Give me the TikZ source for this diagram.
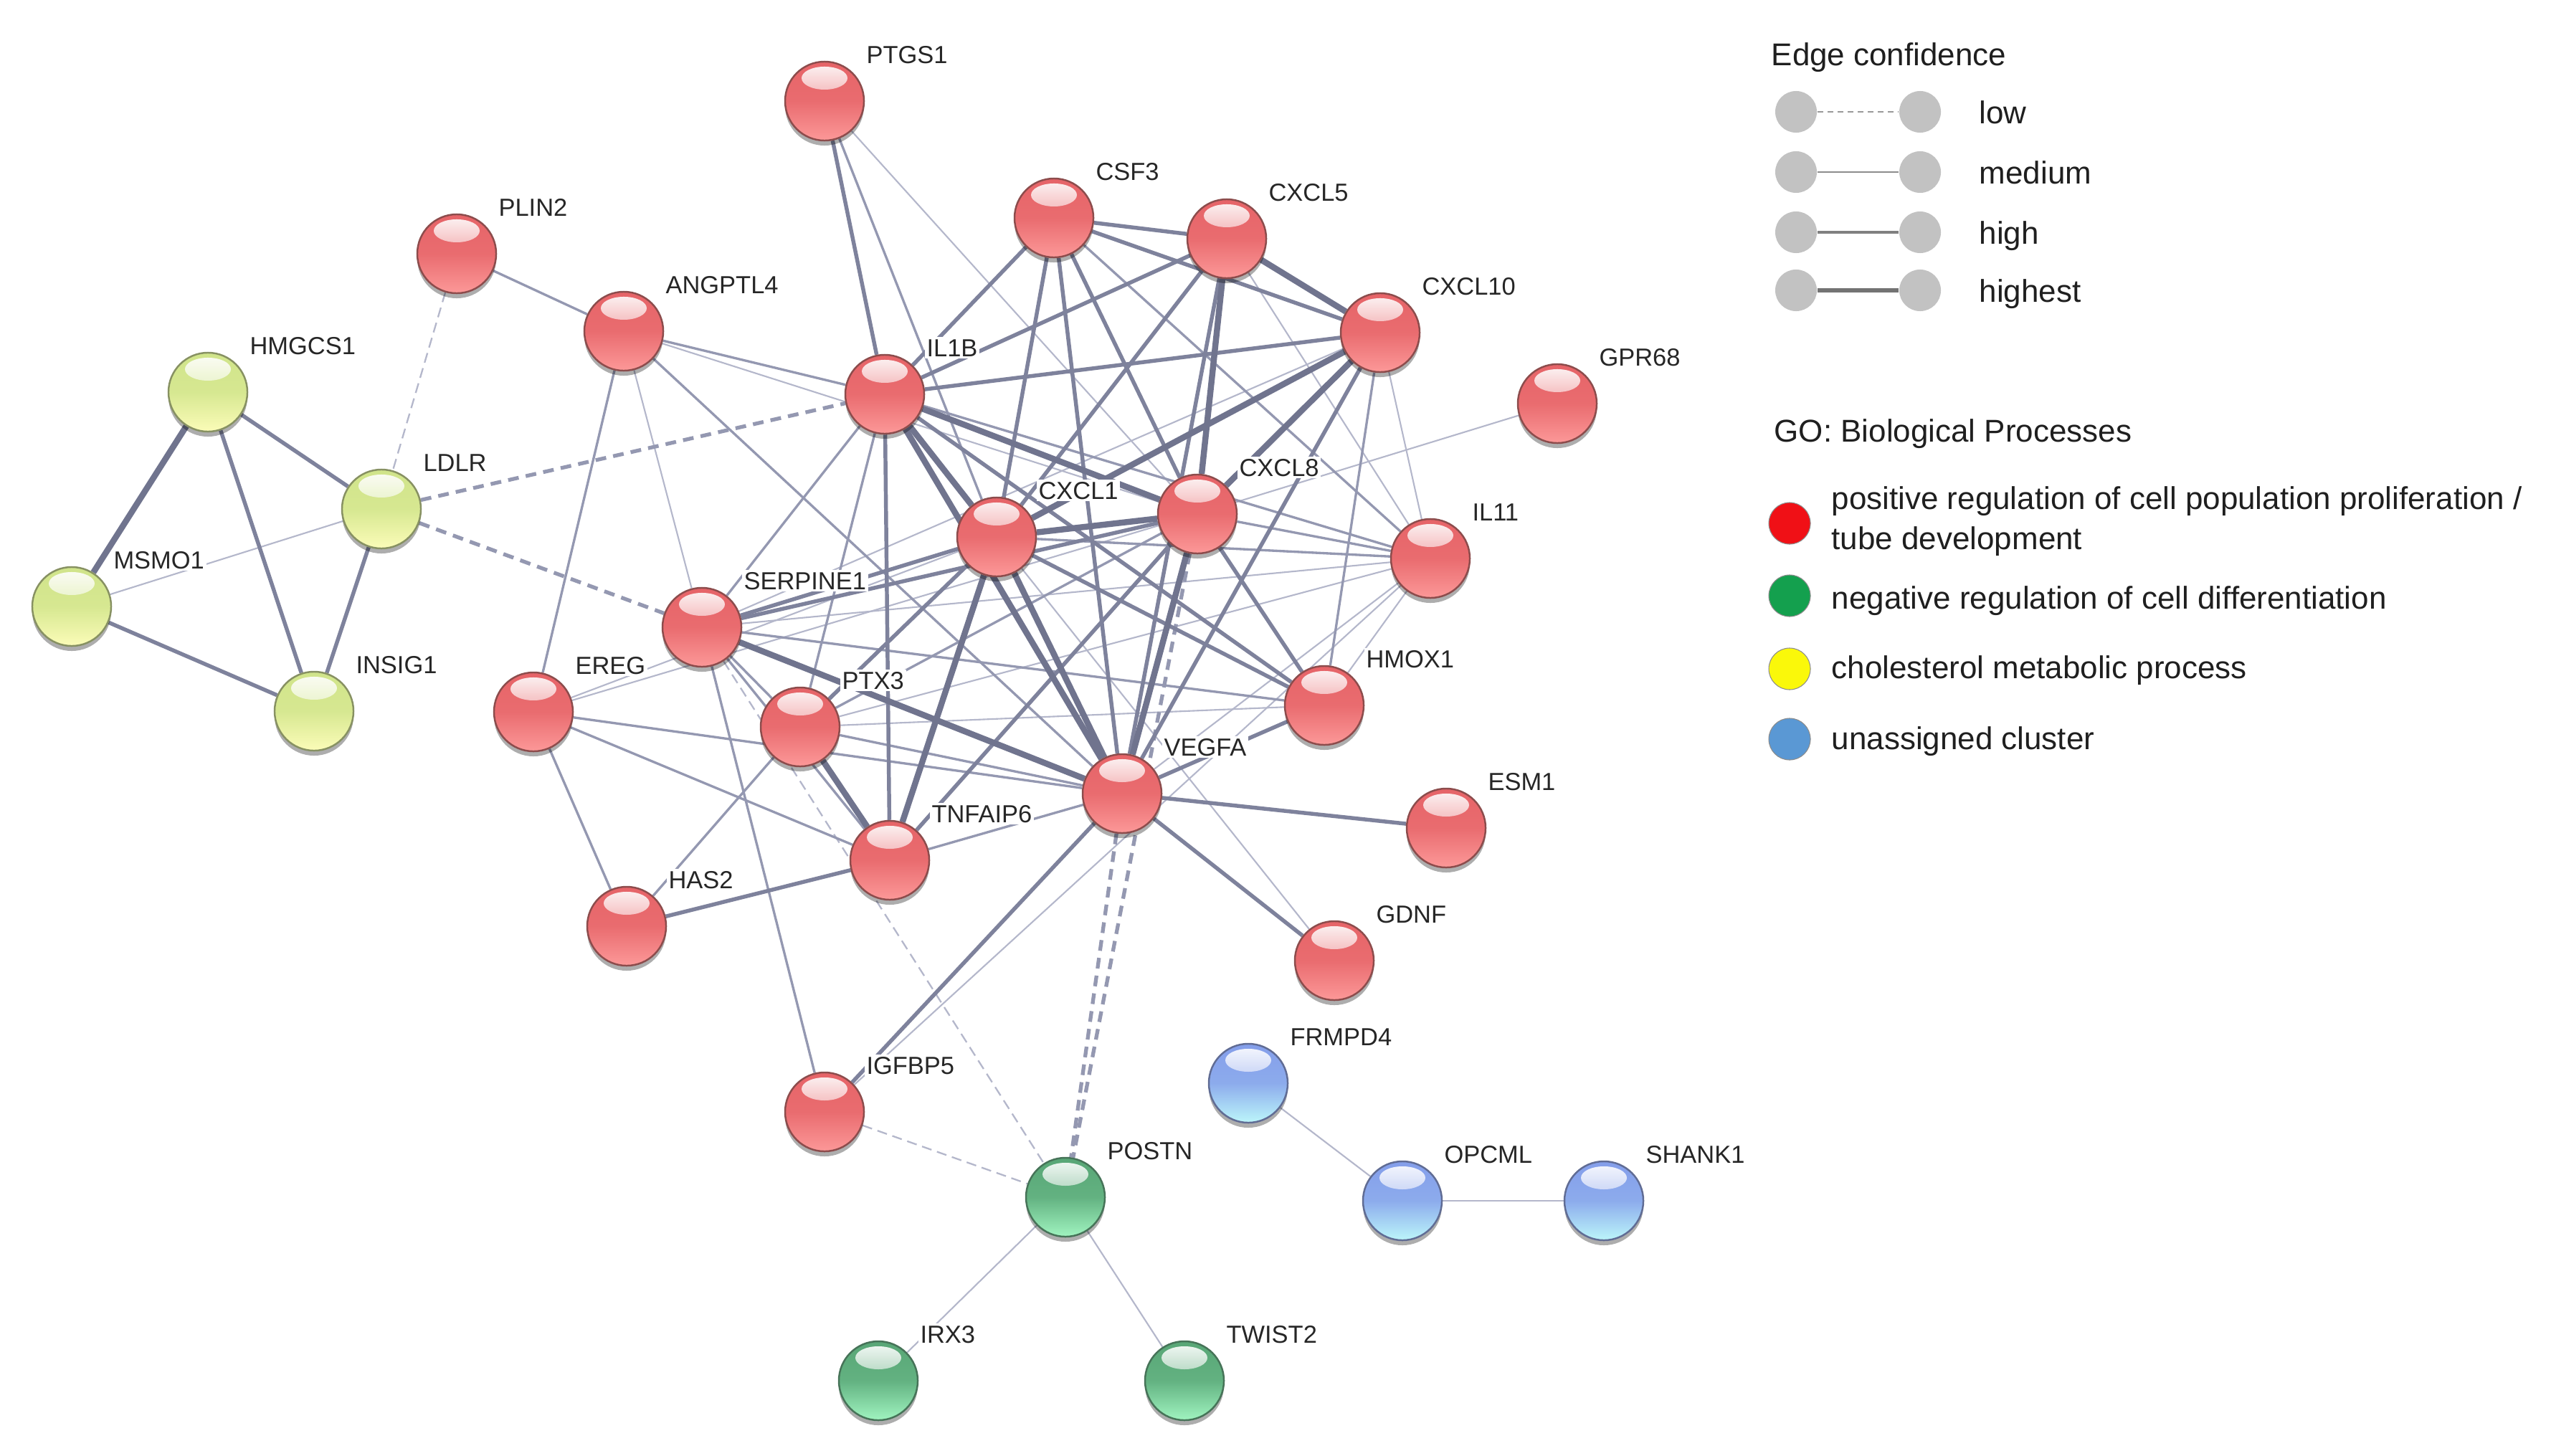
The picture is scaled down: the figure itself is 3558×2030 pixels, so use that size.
\documentclass[tikz,border=0pt]{standalone}
\usepackage{fontspec}
\setmainfont{Liberation Sans}
\pgfdeclarelayer{bg}
\pgfdeclarelayer{edges}
\pgfsetlayers{bg,edges,main}
\definecolor{rTop}{RGB}{230,100,104}
\definecolor{rBot}{RGB}{252,152,152}
\definecolor{rRim}{RGB}{140,76,76}
\definecolor{gTop}{RGB}{88,166,118}
\definecolor{gBot}{RGB}{160,244,192}
\definecolor{gRim}{RGB}{70,115,88}
\definecolor{yTop}{RGB}{208,228,138}
\definecolor{yBot}{RGB}{251,252,184}
\definecolor{yRim}{RGB}{135,145,98}
\definecolor{bTop}{RGB}{132,158,234}
\definecolor{bBot}{RGB}{188,246,250}
\definecolor{bRim}{RGB}{96,108,148}
\definecolor{eA}{RGB}{180,183,203}
\definecolor{eB}{RGB}{148,152,177}
\definecolor{eC}{RGB}{126,130,156}
\definecolor{eD}{RGB}{112,116,142}
\definecolor{goRed}{RGB}{240,16,22}
\definecolor{goGreen}{RGB}{20,160,78}
\definecolor{goYellow}{RGB}{250,248,10}
\definecolor{goBlue}{RGB}{90,152,212}
\begin{document}
\begin{tikzpicture}[x=0.01cm,y=-0.01cm,
  ball/.style={circle, inner sep=0pt, minimum size=1.1cm, draw=#1Rim, line width=0.7pt,
    top color=#1Top, bottom color=#1Bot, middle color=#1Top!85!#1Bot,
    preaction={fill=black, opacity=0.32, transform canvas={yshift=-0.7mm}},
    path picture={\shade[top color=white, bottom color=#1Top, opacity=0.95]
      ([yshift=0.32cm]path picture bounding box.center) ellipse [x radius=0.32cm, y radius=0.16cm];}},
  lab/.style={font=\fontsize{9.8}{11}\selectfont, text=black!85, inner sep=0.8pt, fill=white, anchor=base west},
  lab2/.style={font=\fontsize{12.5}{14}\selectfont, text=black!88, inner sep=0pt, anchor=base west},
  conf1/.style={draw=eA, line width=0.6pt},
  conf2/.style={draw=eB, line width=0.95pt},
  conf3/.style={draw=eC, line width=1.55pt},
  conf4/.style={draw=eD, line width=2.4pt},
  dashlight/.style={draw=eA, line width=0.65pt, dash pattern=on 1.4mm off 0.8mm},
  dashdark/.style={draw=eB, line width=1.5pt, dash pattern=on 1.5mm off 1mm},
  legdot/.style={circle, inner sep=0pt, minimum size=0.58cm, fill=black!24},
  godot/.style={circle, inner sep=0pt, minimum size=0.58cm, draw=black!45, line width=0.3pt}
]
\useasboundingbox (0,0) rectangle (3558,2030);
\begin{pgfonlayer}{bg}
\fill[white] (0,0) rectangle (3558,2030);
\end{pgfonlayer}
\newcommand\mkgene[3]{%
  \node[ball=#1] (#2) at (#3) {};
  \node[lab] (#2-t) at ([shift={(55,-53)}]#2.center) {#2};}
% red cluster
\mkgene{r}{PTGS1}{1150,141}
\mkgene{r}{CSF3}{1470,304}
\mkgene{r}{CXCL5}{1711,333}
\mkgene{r}{CXCL10}{1925,464}
\mkgene{r}{GPR68}{2172,563}
\mkgene{r}{PLIN2}{637,354}
\mkgene{r}{ANGPTL4}{870,462}
\mkgene{r}{IL1B}{1234,550}
\mkgene{r}{CXCL1}{1390,749}
\mkgene{r}{CXCL8}{1670,717}
\mkgene{r}{IL11}{1995,779}
\mkgene{r}{SERPINE1}{979,875}
\mkgene{r}{EREG}{744,993}
\mkgene{r}{PTX3}{1116,1014}
\mkgene{r}{HMOX1}{1847,984}
\mkgene{r}{VEGFA}{1565,1107}
\mkgene{r}{ESM1}{2017,1155}
\mkgene{r}{TNFAIP6}{1241,1200}
\mkgene{r}{HAS2}{874,1292}
\mkgene{r}{GDNF}{1861,1340}
\mkgene{r}{IGFBP5}{1150,1551}
% yellow cluster
\mkgene{y}{HMGCS1}{290,547}
\mkgene{y}{LDLR}{532,710}
\mkgene{y}{MSMO1}{100,846}
\mkgene{y}{INSIG1}{438,992}
% green cluster
\mkgene{g}{POSTN}{1486,1670}
\mkgene{g}{IRX3}{1225,1926}
\mkgene{g}{TWIST2}{1652,1926}
% blue cluster
\mkgene{b}{FRMPD4}{1741,1511}
\mkgene{b}{OPCML}{1956,1675}
\mkgene{b}{SHANK1}{2237,1675}
\begin{pgfonlayer}{edges}
\foreach \a/\b in {PLIN2/LDLR, SERPINE1/POSTN, IGFBP5/POSTN}
  \draw[dashlight] (\a) -- (\b);
\foreach \a/\b in {MSMO1/LDLR, ANGPTL4/SERPINE1, ANGPTL4/CXCL8, PTGS1/CXCL8,
  CXCL5/IL11, CXCL10/IL11, CXCL10/SERPINE1, CXCL8/GPR68, CXCL8/EREG, CXCL1/EREG,
  CXCL1/GDNF, SERPINE1/IL11, PTX3/HMOX1, PTX3/IL11, VEGFA/IL11, IGFBP5/IL11,
  HMOX1/IL11, POSTN/IRX3, POSTN/TWIST2, FRMPD4/OPCML, OPCML/SHANK1}
  \draw[conf1] (\a) -- (\b);
\foreach \a/\b in {PLIN2/ANGPTL4, ANGPTL4/EREG, ANGPTL4/VEGFA, ANGPTL4/IL1B,
  PTGS1/CXCL1, IL1B/PTX3, IL1B/SERPINE1, IL1B/IL11, CSF3/IL11, CXCL10/HMOX1,
  CXCL8/IL11, CXCL8/PTX3, CXCL1/IL11, SERPINE1/TNFAIP6, SERPINE1/PTX3,
  SERPINE1/HMOX1, SERPINE1/IGFBP5, PTX3/HAS2, PTX3/VEGFA, EREG/VEGFA,
  EREG/TNFAIP6, EREG/HAS2, TNFAIP6/VEGFA}
  \draw[conf2] (\a) -- (\b);
\foreach \a/\b in {LDLR/IL1B, LDLR/SERPINE1, VEGFA/POSTN, CXCL8/POSTN}
  \draw[dashdark] (\a) -- (\b);
\foreach \a/\b in {HMGCS1/INSIG1, HMGCS1/LDLR, MSMO1/INSIG1, LDLR/INSIG1,
  PTGS1/IL1B, IL1B/CSF3, IL1B/CXCL5, IL1B/CXCL10, IL1B/HMOX1, IL1B/TNFAIP6,
  CSF3/CXCL5, CSF3/CXCL10, CSF3/CXCL1, CSF3/VEGFA, CSF3/CXCL8, CXCL5/CXCL1,
  CXCL5/VEGFA, CXCL10/VEGFA, CXCL8/HMOX1, CXCL8/TNFAIP6, CXCL8/SERPINE1,
  CXCL1/SERPINE1, CXCL1/PTX3, CXCL1/HMOX1, HAS2/TNFAIP6, VEGFA/HMOX1,
  VEGFA/ESM1, VEGFA/GDNF, VEGFA/IGFBP5}
  \draw[conf3] (\a) -- (\b);
\foreach \a/\b in {HMGCS1/MSMO1, IL1B/CXCL8, IL1B/CXCL1, IL1B/VEGFA,
  CXCL5/CXCL10, CXCL5/CXCL8, CXCL10/CXCL1, CXCL10/CXCL8, CXCL8/CXCL1,
  CXCL8/VEGFA, CXCL1/TNFAIP6, CXCL1/VEGFA, SERPINE1/VEGFA, PTX3/TNFAIP6}
  \draw[conf4] (\a) -- (\b);
\end{pgfonlayer}
% legend: edge confidence
\node[lab2] (ectitle) at (2470,91) {Edge confidence};
\node[legdot] (l1a) at (2505,156) {}; \node[legdot] (l1b) at (2678,156) {};
\node[legdot] (l2a) at (2505,240) {}; \node[legdot] (l2b) at (2678,240) {};
\node[legdot] (l3a) at (2505,324) {}; \node[legdot] (l3b) at (2678,324) {};
\node[legdot] (l4a) at (2505,405) {}; \node[legdot] (l4b) at (2678,405) {};
\draw[black!40, line width=0.5pt, dash pattern=on 0.8mm off 0.6mm] (l1a) -- (l1b);
\draw[black!45, line width=0.85pt] (l2a) -- (l2b);
\draw[black!50, line width=1.25pt] (l3a) -- (l3b);
\draw[black!55, line width=1.9pt] (l4a) -- (l4b);
\node[lab2] (low) at (2760,172) {low};
\node[lab2] (medium) at (2760,256) {medium};
\node[lab2] (high) at (2760,340) {high};
\node[lab2] (highest) at (2760,421) {highest};
% legend: GO
\node[lab2] (gotitle) at (2474,616) {GO: Biological Processes};
\node[godot, fill=goRed] (go1) at (2496,730) {};
\node[godot, fill=goGreen] (go2) at (2496,831) {};
\node[godot, fill=goYellow] (go3) at (2496,933) {};
\node[godot, fill=goBlue] (go4) at (2496,1031) {};
\node[lab2] (go1a) at (2554,710) {positive regulation of cell population proliferation /};
\node[lab2] (go1b) at (2554,766) {tube development};
\node[lab2] (go2t) at (2554,849) {negative regulation of cell differentiation};
\node[lab2] (go3t) at (2554,946) {cholesterol metabolic process};
\node[lab2] (go4t) at (2554,1045) {unassigned cluster};
\end{tikzpicture}
\end{document}
